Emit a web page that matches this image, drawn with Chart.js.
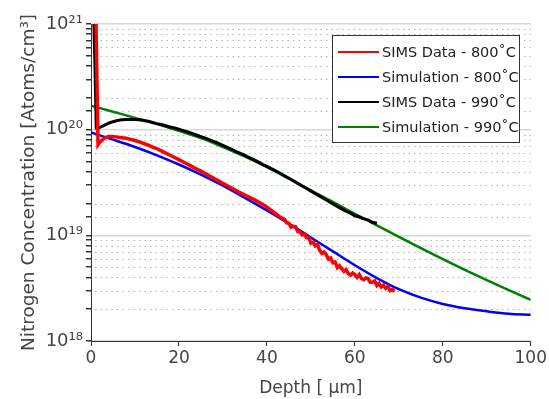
<!DOCTYPE html>
<html>
<head>
<meta charset="utf-8">
<script src="https://cdn.jsdelivr.net/npm/chart.js@4.4.1/dist/chart.umd.min.js"></script>
<style>
  html, body { margin: 0; padding: 0; background: #fff; }
  #wrap { width: 549px; height: 399px; }
</style>
</head>
<body>
<div id="wrap"><canvas id="grafico"></canvas></div>
<script>
// ---- data ----
const simDepth = [0, 5, 10, 15, 20, 25, 30, 35, 40, 45, 50, 55, 60, 65, 70, 75, 80, 85, 90, 95, 100];
const sim800 = [9.4e19, 8.05e19, 6.85e19, 5.72e19, 4.68e19, 3.76e19, 2.95e19, 2.26e19, 1.72e19, 1.29e19, 9.55e18,
  7.05e18, 5.21e18, 3.94e18, 3.09e18, 2.57e18, 2.24e18, 2.04e18, 1.91e18, 1.81e18, 1.77e18];
const sim990 = [1.69e20, 1.479e20, 1.294e20, 1.13e20, 9.73e19, 8.32e19, 6.85e19, 5.56e19, 4.42e19, 3.44e19, 2.67e19,
  2.07e19, 1.6e19, 1.245e19, 9.68e18, 7.57e18, 5.96e18, 4.72e18, 3.77e18, 3.03e18, 2.45e18];

const sims800Depth = [1.1, 1.35, 1.6, 2, 3, 4, 5, 6, 7, 8, 9, 10, 11, 12, 13, 14, 15, 16, 17, 18, 19, 20,
  21, 22, 23, 24, 25, 26, 27, 28, 29, 30, 31, 32, 33, 34, 35, 36, 37, 38, 39, 40, 41, 42, 43,
  44, 44.5, 45, 45.5, 46, 46.5, 47, 47.5, 48, 48.5, 49, 49.5, 50, 50.5, 51, 51.5, 52, 52.5, 53, 53.5,
  54, 54.5, 55, 55.5, 56, 56.5, 57, 57.5, 58, 58.5, 59, 59.5, 60, 60.5, 61, 61.5, 62, 62.5, 63, 63.5,
  64, 64.5, 65, 65.5, 66, 66.5, 67, 67.5, 68, 68.5, 69];
const sims800 = [1.3e21, 3e20, 7.2e19, 7.6e19, 8.3e19, 8.6e19, 8.6e19, 8.5e19, 8.4e19, 8.3e19, 8.1e19, 7.9e19,
  7.65e19, 7.4e19, 7.15e19, 6.85e19, 6.6e19, 6.3e19, 6.0e19, 5.72e19, 5.45e19, 5.2e19, 4.95e19, 4.7e19, 4.47e19,
  4.25e19, 4.05e19, 3.85e19, 3.65e19, 3.45e19, 3.28e19, 3.1e19, 2.95e19, 2.8e19, 2.66e19, 2.52e19, 2.4e19,
  2.29e19, 2.19e19, 2.08e19, 1.97e19, 1.85e19, 1.72e19, 1.6e19, 1.49e19,
  1.42e19, 1.31e19, 1.3e19, 1.195e19, 1.22e19, 1.21e19, 1.09e19, 1.08e19, 1.01e19, 1.03e19, 9.5e18, 9.55e18,
  8.45e18, 8.6e18, 7.95e18, 8.2e18, 7.2e18, 6.75e18, 6.95e18, 6.55e18, 5.95e18, 6.1e18, 5.5e18, 5.6e18,
  4.95e18, 5.15e18, 4.85e18, 4.55e18, 4.75e18, 4.35e18, 4.2e18, 4.4e18, 4.25e18, 4.0e18, 4.25e18, 3.9e18,
  3.8e18, 3.95e18, 3.9e18, 3.6e18, 3.6e18, 3.7e18, 3.35e18, 3.5e18, 3.25e18, 3.37e18, 3.15e18, 3.27e18,
  3.0e18, 3.08e18, 2.95e18];

const sims990Depth = [0.6, 0.9, 1.2, 1.6, 2, 3, 4, 5, 6, 7, 8, 9, 10, 11, 12, 13, 14, 15, 16, 17, 18, 19, 20,
  21, 22, 23, 24, 25, 26, 27, 28, 29, 30, 31, 32, 33, 34, 35, 36, 37, 38, 39, 40, 41, 42, 43, 44, 45,
  46, 47, 48, 49, 50, 51, 52, 53, 54, 55, 56, 57, 58, 59, 60, 61, 62, 63, 64, 65];
const sims990 = [1.3e21, 4e20, 1.03e20, 1.02e20, 1.05e20, 1.1e20, 1.15e20, 1.19e20, 1.22e20, 1.24e20, 1.25e20,
  1.25e20, 1.25e20, 1.24e20, 1.22e20, 1.2e20, 1.17e20, 1.14e20, 1.12e20, 1.09e20, 1.06e20, 1.04e20, 1.01e20,
  9.8e19, 9.5e19, 9.2e19, 8.9e19, 8.6e19, 8.3e19, 8.0e19, 7.7e19, 7.4e19, 7.1e19, 6.8e19, 6.5e19, 6.2e19,
  5.95e19, 5.7e19, 5.45e19, 5.2e19, 4.95e19, 4.7e19, 4.5e19, 4.28e19, 4.07e19, 3.87e19, 3.66e19, 3.47e19,
  3.28e19, 3.1e19, 2.93e19, 2.77e19, 2.62e19, 2.48e19, 2.35e19, 2.22e19, 2.1e19, 1.98e19, 1.88e19, 1.78e19,
  1.69e19, 1.62e19, 1.53e19, 1.49e19, 1.43e19, 1.4e19, 1.33e19, 1.3e19];

const xTicks = [0, 20, 40, 60, 80, 100];
const seriesNames = ["SIMS Data - 800\u02DAC", "Simulation - 800\u02DAC", "SIMS Data - 990\u02DAC", "Simulation - 990\u02DAC"];
const seriesColors = ["#ff0000", "#0000ff", "#000000", "#008000"];

const FONT = "'DejaVu Sans', sans-serif";
const SUP = { "0": "\u2070", "1": "\u00B9", "2": "\u00B2", "3": "\u00B3", "4": "\u2074", "5": "\u2075",
  "6": "\u2076", "7": "\u2077", "8": "\u2078", "9": "\u2079" };

function pares(xs, ys) {
  return xs.map((x, i) => ({ x: x, y: ys[i] }));
}

function esMayor(v) {
  const l = Math.log10(v);
  return Math.abs(l - Math.round(l)) < 1e-6;
}

// dotted minor grid lines
const gridMenor = {
  id: "gridMenor",
  beforeDatasetsDraw(chart) {
    const { ctx, chartArea, scales } = chart;
    const y = scales.y;
    ctx.save();
    ctx.strokeStyle = "#b4b4b4";
    ctx.lineWidth = 1;
    ctx.setLineDash([1.5, 4]);
    y.ticks.forEach((t) => {
      if (esMayor(t.value)) return;
      const py = Math.round(y.getPixelForValue(t.value)) + 0.5;
      ctx.beginPath();
      ctx.moveTo(chartArea.left + 4, py);
      ctx.lineTo(chartArea.right, py);
      ctx.stroke();
    });
    ctx.restore();
  },
};

// boxed legend, top right
const leyenda = {
  id: "leyenda",
  afterDatasetsDraw(chart) {
    const { ctx } = chart;
    const x0 = 332, y0 = 35, w = 187, h = 107;
    ctx.save();
    ctx.fillStyle = "#fff";
    ctx.fillRect(x0, y0, w, h);
    ctx.strokeStyle = "#333";
    ctx.lineWidth = 1;
    ctx.strokeRect(x0 + 0.5, y0 + 0.5, w, h);
    ctx.font = "14.5px " + FONT;
    ctx.textBaseline = "middle";
    chart.data.datasets.forEach((ds, i) => {
      const yy = 52 + i * 25;
      ctx.strokeStyle = ds.borderColor;
      ctx.lineWidth = 2;
      ctx.beginPath();
      ctx.moveTo(338, yy);
      ctx.lineTo(379, yy);
      ctx.stroke();
      ctx.fillStyle = "#222";
      ctx.fillText(ds.label, 382, yy + 1);
    });
    ctx.restore();
  },
};

const datasets = [
  { label: seriesNames[0], data: pares(sims800Depth, sims800), borderColor: seriesColors[0], borderWidth: 3.5 },
  { label: seriesNames[1], data: pares(simDepth, sim800), borderColor: seriesColors[1], borderWidth: 2.5, cubicInterpolationMode: "monotone" },
  { label: seriesNames[2], data: pares(sims990Depth, sims990), borderColor: seriesColors[2], borderWidth: 3 },
  { label: seriesNames[3], data: pares(simDepth, sim990), borderColor: seriesColors[3], borderWidth: 2.5, cubicInterpolationMode: "monotone" },
].map((d) => Object.assign({ pointRadius: 0, fill: false, backgroundColor: d.borderColor }, d));

new Chart(document.getElementById("grafico"), {
  type: "line",
  data: { datasets: datasets },
  plugins: [gridMenor, leyenda],
  options: {
    responsive: true,
    maintainAspectRatio: false,
    animation: false,
    layout: { padding: { left: 0, right: 18, top: 24, bottom: 0 } },
    plugins: { legend: { display: false }, tooltip: { enabled: false } },
    scales: {
      x: {
        type: "linear",
        min: 0,
        max: 100,
        afterBuildTicks: (s) => { s.ticks = xTicks.map((v) => ({ value: v })); },
        afterFit: (s) => { s.height = 58; },
        grid: { drawOnChartArea: false, drawTicks: true, tickLength: 5, tickColor: "#333" },
        border: { color: "#333", width: 1 },
        ticks: { color: "#444", font: { family: FONT, size: 17 }, padding: 2, maxRotation: 0 },
        title: { display: true, text: "Depth [ \u03BCm]", color: "#444", font: { family: FONT, size: 17 }, padding: 0 },
      },
      y: {
        type: "logarithmic",
        min: 1e18,
        max: 1e21,
        afterFit: (s) => { s.width = 91; },
        grid: {
          color: (c) => (c.tick && esMayor(c.tick.value) ? "#d8d8d8" : "transparent"),
          lineWidth: 1.5,
          drawTicks: true,
          tickLength: 5,
          tickColor: "#333",
        },
        border: { color: "#333", width: 1 },
        ticks: {
          autoSkip: false,
          color: "#444",
          font: { family: FONT, size: 18 },
          padding: 3,
          callback: (v) => {
            if (!esMayor(v)) return "";
            const e = String(Math.round(Math.log10(v)));
            return "10" + e.split("").map((d) => SUP[d]).join("");
          },
        },
        title: {
          display: true,
          text: "Nitrogen Concentration [Atoms/cm\u00B3]",
          color: "#444",
          font: { family: FONT, size: 18.5 },
          padding: { top: 18, bottom: 0 },
        },
      },
    },
  },
});
</script>
</body>
</html>
